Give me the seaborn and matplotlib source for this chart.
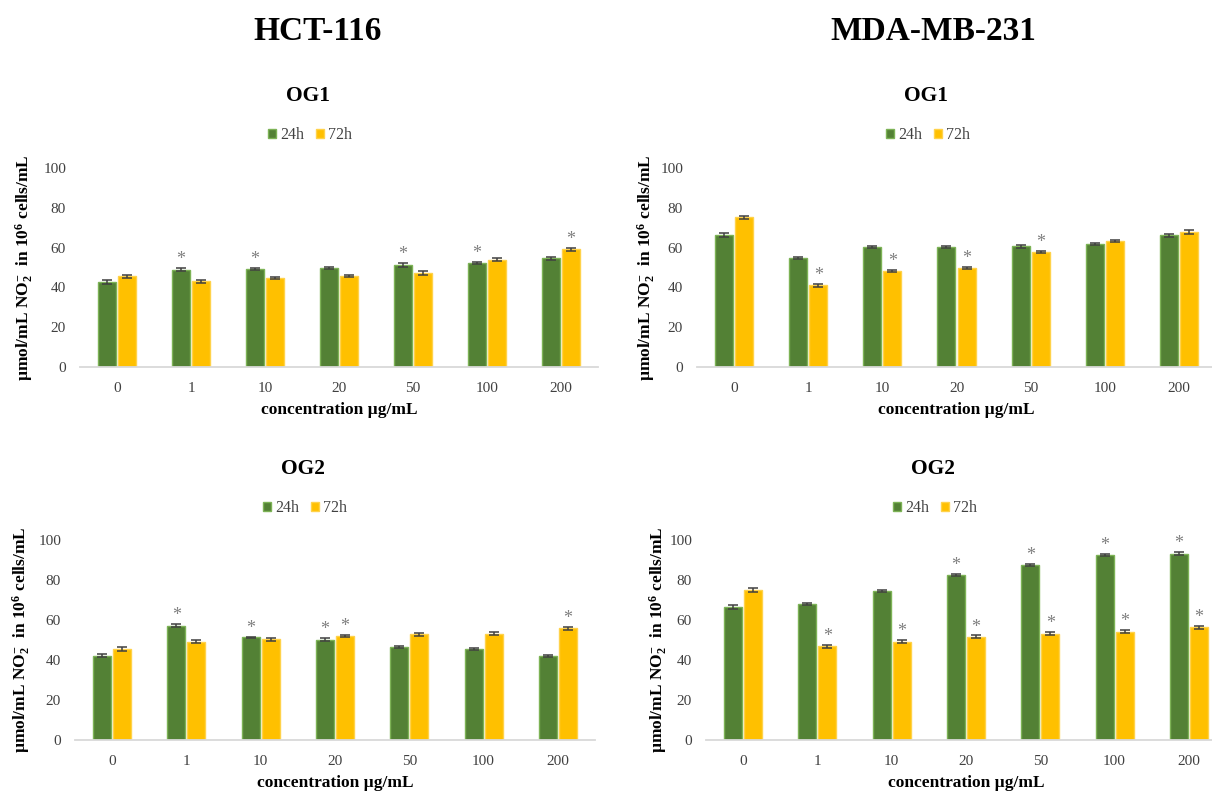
import matplotlib
matplotlib.use("Agg")
import matplotlib.pyplot as plt
from matplotlib.patches import Patch
import seaborn as sns
import pandas as pd

# ---- data -------------------------------------------------------------
concentrations = ["0", "1", "10", "20", "50", "100", "200"]
times = ["24h", "72h"]

# HCT-116, OG1
hct_og1_24h = [42.5, 48.9, 49.3, 49.6, 51.3, 52.5, 54.7]
hct_og1_72h = [45.6, 43.0, 44.5, 45.6, 47.3, 54.0, 59.1]
hct_og1_err24 = [1.0, 0.8, 0.6, 0.5, 0.8, 0.5, 0.7]
hct_og1_err72 = [0.8, 0.6, 0.5, 0.6, 0.9, 0.6, 0.8]
hct_og1_sig24 = [False, True, True, False, True, True, False]
hct_og1_sig72 = [False, False, False, False, False, False, True]

# MDA-MB-231, OG1
mda_og1_24h = [66.3, 54.9, 60.1, 60.2, 60.6, 61.7, 66.2]
mda_og1_72h = [75.2, 41.0, 48.1, 49.8, 57.7, 63.2, 67.9]
mda_og1_err24 = [0.9, 0.5, 0.5, 0.5, 0.7, 0.4, 0.8]
mda_og1_err72 = [0.8, 0.6, 0.6, 0.6, 0.6, 0.6, 0.9]
mda_og1_sig24 = [False, False, False, False, False, False, False]
mda_og1_sig72 = [False, True, True, True, True, False, False]

# HCT-116, OG2
hct_og2_24h = [42.2, 57.2, 51.3, 50.2, 46.5, 45.5, 42.2]
hct_og2_72h = [45.5, 49.2, 50.4, 52.0, 52.8, 53.2, 55.8]
hct_og2_err24 = [0.9, 0.8, 0.4, 0.6, 0.6, 0.6, 0.5]
hct_og2_err72 = [0.9, 0.6, 0.7, 0.7, 0.7, 0.7, 0.9]
hct_og2_sig24 = [False, True, True, True, False, False, False]
hct_og2_sig72 = [False, False, False, True, False, False, True]

# MDA-MB-231, OG2
mda_og2_24h = [66.5, 68.0, 74.7, 82.3, 87.5, 92.3, 93.2]
mda_og2_72h = [75.0, 46.8, 49.2, 51.7, 53.2, 54.2, 56.3]
mda_og2_err24 = [0.9, 0.5, 0.5, 0.5, 0.5, 0.5, 0.6]
mda_og2_err72 = [0.9, 0.7, 0.6, 0.6, 0.8, 0.6, 0.9]
mda_og2_sig24 = [False, False, False, True, True, True, True]
mda_og2_sig72 = [False, True, True, True, True, True, True]

# ---- style ------------------------------------------------------------
sns.set_theme(style="white")
plt.rcParams["font.family"] = ["Liberation Serif", "DejaVu Serif"]
plt.rcParams["text.color"] = "black"
plt.rcParams["axes.labelcolor"] = "black"
plt.rcParams["mathtext.fontset"] = "custom"
plt.rcParams["mathtext.rm"] = "Liberation Serif:bold"
plt.rcParams["mathtext.it"] = "Liberation Serif:italic:bold"
plt.rcParams["mathtext.bf"] = "Liberation Serif:bold"
plt.rcParams["mathtext.default"] = "rm"

GREEN = "#538135"
GREEN_EDGE = "#7DB356"
YELLOW = "#FFC000"
YELLOW_EDGE = "#FFD24A"
ERR = "#404040"
STAR = "#7F7F7F"
TICK = "#404040"

W, H = 1212, 791
fig = plt.figure(figsize=(W / 100, H / 100), dpi=100)


def fx(px):
    return px / W


def fy(py):
    return 1 - py / H


def panel(rect_px, title, title_xy, legend_xy, ylab_x,
          v24, v72, e24, e72, s24, s72):
    x0, x1, ytop, ybot = rect_px
    ax = fig.add_axes([fx(x0), fy(ybot), fx(x1 - x0), fy(ytop) - fy(ybot)])
    df = pd.DataFrame({
        "concentration": concentrations * 2,
        "time": [times[0]] * len(concentrations) + [times[1]] * len(concentrations),
        "value": list(v24) + list(v72),
    })
    sns.barplot(data=df, x="concentration", y="value", hue="time",
                order=concentrations, hue_order=times,
                palette=[GREEN, YELLOW], saturation=1, width=0.54, gap=0.1,
                errorbar=None, legend=False, ax=ax)
    for cont, errs, sigs, edge in ((ax.containers[0], e24, s24, GREEN_EDGE),
                                   (ax.containers[1], e72, s72, YELLOW_EDGE)):
        xs, ys = [], []
        for patch, err, sig in zip(cont.patches, errs, sigs):
            patch.set_edgecolor(edge)
            patch.set_linewidth(1.0)
            cx = patch.get_x() + patch.get_width() / 2
            top = patch.get_height()
            xs.append(cx)
            ys.append(top)
            if sig:
                ax.text(cx, top + err + 4.2, "*", ha="center", va="center",
                        fontsize=13, color=STAR, clip_on=False)
        ax.errorbar(xs, ys, yerr=errs, fmt="none", ecolor=ERR,
                    elinewidth=1.1, capsize=3.5, capthick=1.1, zorder=5)

    ax.set_ylim(0, 100)
    ax.set_yticks(range(0, 101, 20))
    ax.set_xlim(-0.5, len(concentrations) - 0.5)
    for side in ("top", "right", "left"):
        ax.spines[side].set_visible(False)
    ax.spines["bottom"].set_color("#D9D9D9")
    ax.spines["bottom"].set_linewidth(1.3)
    ax.tick_params(axis="both", length=0, labelsize=11, labelcolor=TICK)
    ax.tick_params(axis="x", pad=11)
    ax.tick_params(axis="y", pad=10)
    ax.grid(False)

    ax.set_xlabel("concentration µg/mL", fontsize=12.5, fontweight="bold",
                  color="black")
    ax.xaxis.set_label_coords(0.5, -0.215)
    ax.xaxis.label.set_va("center")
    ax.set_ylabel(r"µmol/mL NO$_2^{-}$  in 10$^{6}$ cells/mL", fontsize=12.5,
                  fontweight="bold", color="black")
    ax.yaxis.set_label_coords((ylab_x - x0) / (x1 - x0), 0.5)
    ax.yaxis.label.set_va("center")

    fig.text(fx(title_xy[0]), fy(title_xy[1]), title, ha="center",
             va="center", fontsize=15.5, fontweight="bold", color="black")
    handles = [Patch(facecolor=GREEN, edgecolor=GREEN_EDGE, label=times[0]),
               Patch(facecolor=YELLOW, edgecolor=YELLOW_EDGE, label=times[1])]
    leg = fig.legend(handles=handles, loc="center",
                     bbox_to_anchor=(fx(legend_xy[0]), fy(legend_xy[1])),
                     ncol=2, frameon=False, fontsize=11.5, handlelength=0.55,
                     handleheight=0.55, handletextpad=0.25, columnspacing=0.7,
                     borderaxespad=0, borderpad=0)
    for t in leg.get_texts():
        t.set_color(TICK)
    return ax


panel((80, 598, 168, 367), "OG1", (308, 96), (310, 135), 24,
      hct_og1_24h, hct_og1_72h, hct_og1_err24, hct_og1_err72,
      hct_og1_sig24, hct_og1_sig72)
panel((697, 1216, 168, 367), "OG1", (926, 96), (928, 135), 646,
      mda_og1_24h, mda_og1_72h, mda_og1_err24, mda_og1_err72,
      mda_og1_sig24, mda_og1_sig72)
panel((75, 595, 540, 740), "OG2", (303, 469), (305, 508), 21,
      hct_og2_24h, hct_og2_72h, hct_og2_err24, hct_og2_err72,
      hct_og2_sig24, hct_og2_sig72)
panel((706, 1226, 540, 740), "OG2", (933, 469), (935, 508), 658,
      mda_og2_24h, mda_og2_72h, mda_og2_err24, mda_og2_err72,
      mda_og2_sig24, mda_og2_sig72)

fig.text(fx(318), fy(31), "HCT-116", ha="center", va="center",
         fontsize=24, fontweight="bold", color="black")
fig.text(fx(933), fy(31), "MDA-MB-231", ha="center", va="center",
         fontsize=24, fontweight="bold", color="black")

fig.savefig("out.png", dpi=100)
